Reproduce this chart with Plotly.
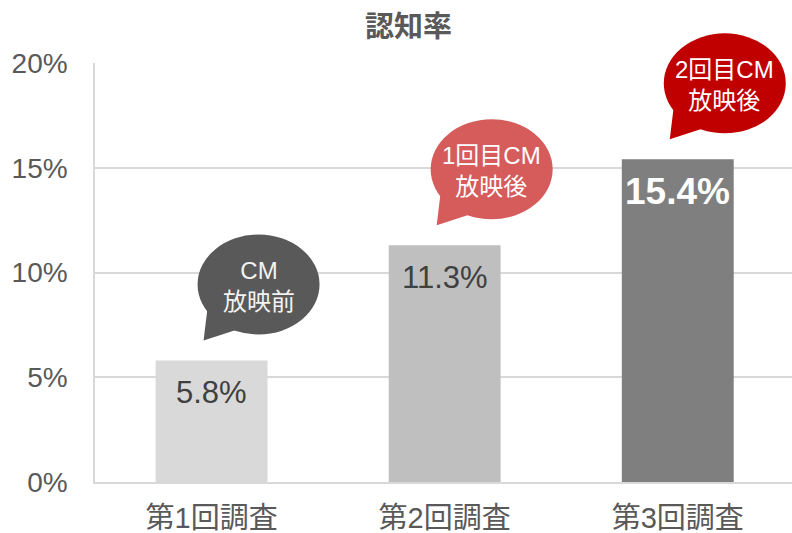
import plotly.graph_objects as go

categories = ["第1回調査", "第2回調査", "第3回調査"]
values = [0.058, 0.113, 0.154]
value_labels = ["5.8%", "11.3%", "15.4%"]
bar_colors = ["#d9d9d9", "#bfbfbf", "#7f7f7f"]
label_colors = ["#404040", "#404040", "#ffffff"]
label_bold = [False, False, True]
bubble_texts = ["CM<br>放映前", "1回目CM<br>放映後", "2回目CM<br>放映後"]
bubble_colors = ["#595959", "#d65b5b", "#c00000"]
bubble_text_colors = ["#f2f2f2", "#ffffff", "#ffffff"]
y_ticks = [0, 0.05, 0.10, 0.15, 0.20]
y_tick_labels = ["0%", "5%", "10%", "15%", "20%"]

FONT = "Liberation Sans, Arial, Noto Sans CJK JP, sans-serif"
Y_MAX = 0.2
X_RANGE = [-0.5, 2.49]

fig = go.Figure()
fig.add_trace(go.Bar(
    x=categories, y=values, marker=dict(color=bar_colors, line=dict(width=0)),
    width=0.48, hoverinfo="skip",
))

shapes = []
annotations = []
for i, (cat, v) in enumerate(zip(categories, values)):
    annotations.append(dict(
        x=cat, y=v, xref="x", yref="y", xanchor="center", yanchor="middle", yshift=-32,
        text=("<b>%s</b>" % value_labels[i]) if label_bold[i] else value_labels[i],
        showarrow=False,
        font=dict(family=FONT, size=37 if label_bold[i] else 31, color=label_colors[i]),
    ))
    # speech bubble anchored (in paper coords derived from data) to bar top
    px = (i - X_RANGE[0]) / (X_RANGE[1] - X_RANGE[0])
    py = v / Y_MAX
    cx, cy, rx, ry = 47, 76, 61, 50
    shapes.append(dict(
        type="circle", xref="paper", yref="paper", xanchor=px, yanchor=py,
        xsizemode="pixel", ysizemode="pixel",
        x0=cx - rx, x1=cx + rx, y0=cy - ry, y1=cy + ry,
        fillcolor=bubble_colors[i], line=dict(width=0), layer="above",
    ))
    shapes.append(dict(
        type="path", xref="paper", yref="paper", xanchor=px, yanchor=py,
        xsizemode="pixel", ysizemode="pixel",
        path="M %d,%d L %d,%d L %d,%d Z" % (cx - 50, cy - 15, cx - 55, cy - 56, cx - 18, cy - 44),
        fillcolor=bubble_colors[i], line=dict(width=0), layer="above",
    ))
    annotations.append(dict(
        x=px, y=py, xref="paper", yref="paper", xanchor="center", yanchor="middle",
        xshift=cx, yshift=cy - 2,
        text=bubble_texts[i], showarrow=False, align="center",
        font=dict(family=FONT, size=24, color=bubble_text_colors[i]),
    ))

annotations.append(dict(
    x=0.45, y=1, xref="paper", yref="paper", xanchor="center", yanchor="bottom", yshift=18,
    text="<b>認知率</b>", showarrow=False,
    font=dict(family=FONT, size=29, color="#595959"),
))

fig.update_layout(
    width=792, height=533,
    margin=dict(l=95, r=0, t=63, b=51),
    paper_bgcolor="white", plot_bgcolor="white",
    showlegend=False,
    shapes=shapes, annotations=annotations,
    font=dict(family=FONT, color="#595959"),
    xaxis=dict(
        range=X_RANGE, showgrid=False, showline=True, linecolor="#d9d9d9",
        linewidth=1.5, ticks="", tickfont=dict(family=FONT, size=29, color="#595959"),
        ticklabelstandoff=9, fixedrange=True,
    ),
    yaxis=dict(
        range=[0, Y_MAX], tickvals=y_ticks, ticktext=y_tick_labels,
        showgrid=True, gridcolor="#d9d9d9", gridwidth=1.5,
        showline=True, linecolor="#d9d9d9", linewidth=1.5, zeroline=False,
        ticks="", tickfont=dict(family=FONT, size=28, color="#595959"),
        ticklabelstandoff=20, fixedrange=True,
    ),
)

fig.write_html(
    "out.html",
    config={"displayModeBar": False},
    post_script="document.body.style.margin='0';document.body.style.overflow='hidden';",
)
